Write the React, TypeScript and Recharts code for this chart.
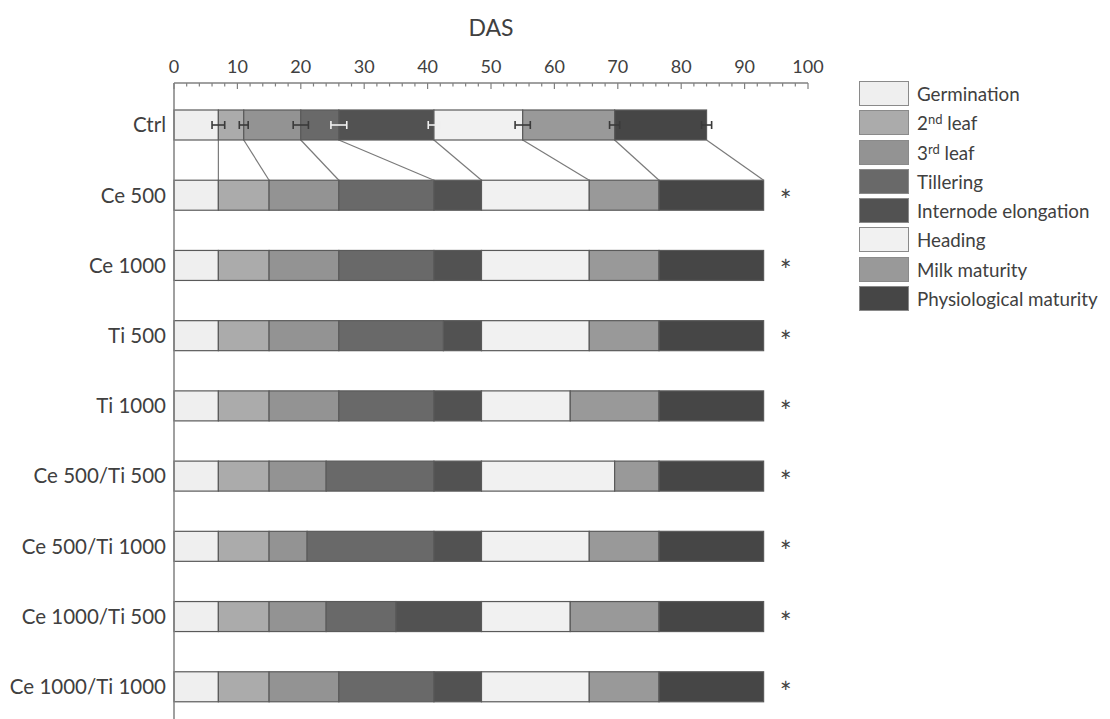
import React from 'react';
import { BarChart, Bar, XAxis, YAxis, Label } from 'recharts';

// ---------- data ----------
const categories = ['Ctrl', 'Ce 500', 'Ce 1000', 'Ti 500', 'Ti 1000', 'Ce 500/Ti 500', 'Ce 500/Ti 1000', 'Ce 1000/Ti 500', 'Ce 1000/Ti 1000'];
const stages = ['Germination', '2nd leaf', '3rd leaf', 'Tillering', 'Internode elongation', 'Heading', 'Milk maturity', 'Physiological maturity'];

// DAS at which each stage ends, one value per category
const germinationEnd = [7, 7, 7, 7, 7, 7, 7, 7, 7];
const leaf2End = [11, 15, 15, 15, 15, 15, 15, 15, 15];
const leaf3End = [20, 26, 26, 26, 26, 24, 21, 24, 26];
const tilleringEnd = [26, 41, 41, 42.5, 41, 41, 41, 35, 41];
const internodeEnd = [41, 48.5, 48.5, 48.5, 48.5, 48.5, 48.5, 48.5, 48.5];
const headingEnd = [55, 65.5, 65.5, 65.5, 62.5, 69.5, 65.5, 62.5, 65.5];
const milkEnd = [69.5, 76.5, 76.5, 76.5, 76.5, 76.5, 76.5, 76.5, 76.5];
const physEnd = [84, 93, 93, 93, 93, 93, 93, 93, 93];

// Ctrl error (± DAS) at the end of each stage
const ctrlError = [1.0, 0.7, 1.2, 1.25, 0.9, 1.2, 0.8, 0.8];
// significance marks
const significant = [false, true, true, true, true, true, true, true, true];

const xTickLabels = [0, 10, 20, 30, 40, 50, 60, 70, 80, 90, 100];
const minorStep = 2;

// ---------- styles ----------
const FONT = 'Lato, "Open Sans", sans-serif';
const TEXT = '#404040';
const COLORS = ['#efefef', '#ababab', '#939393', '#696969', '#525252', '#f1f1f1', '#999999', '#464646'];
const ERR_COLORS = ['#3a3a3a', '#3a3a3a', '#3a3a3a', '#f0f0f0', '#f0f0f0', '#3a3a3a', '#3a3a3a', '#3a3a3a'];
const STROKE = '#5a5a5a';
const AXIS = '#808080';
const TICK_MARGIN = 10;

const stageEnds = [germinationEnd, leaf2End, leaf3End, tilleringEnd, internodeEnd, headingEnd, milkEnd, physEnd];
const keys = stages.map((_, i) => 's' + i);

const data = categories.map((name, ci) => {
  const row: any = { name };
  stageEnds.forEach((arr, si) => {
    row[keys[si]] = arr[ci] - (si > 0 ? stageEnds[si - 1][ci] : 0);
  });
  return row;
});

const allTicks: number[] = [];
for (let v = xTickLabels[0]; v <= xTickLabels[xTickLabels.length - 1]; v += minorStep) allTicks.push(v);

const ctrlEnds: Record<number, { x: number; y: number }> = {};

function errorBar(xc: number, cy: number, half: number, color: string, key: string) {
  return (
    <g key={key} stroke={color} strokeWidth={1.6}>
      <line x1={xc - half} x2={xc + half} y1={cy} y2={cy} />
      <line x1={xc - half} x2={xc - half} y1={cy - 4} y2={cy + 4} />
      <line x1={xc + half} x2={xc + half} y1={cy - 4} y2={cy + 4} />
    </g>
  );
}

function makeShape(si: number) {
  return (p: any) => {
    const { x, y, width, height, index } = p;
    const dur = stageEnds[si][index] - (si > 0 ? stageEnds[si - 1][index] : 0);
    const ppu = dur > 0 ? width / dur : 0;
    const xEnd = x + width;
    const cy = y + height / 2;
    const els: any[] = [
      <rect key="r" x={x} y={y} width={width} height={height} fill={COLORS[si]} stroke={STROKE} strokeWidth={1.2} />,
    ];
    if (index === 0) {
      ctrlEnds[si] = { x: xEnd, y: y + height };
      if (si > 0) els.push(errorBar(x, cy, ctrlError[si - 1] * ppu, ERR_COLORS[si - 1], 'ep'));
      if (si === stages.length - 1) els.push(errorBar(xEnd, cy, ctrlError[si] * ppu, ERR_COLORS[si], 'ee'));
    }
    if (index === 1 && ctrlEnds[si]) {
      els.push(
        <line key="c" x1={ctrlEnds[si].x} y1={ctrlEnds[si].y} x2={xEnd} y2={y} stroke="#7a7a7a" strokeWidth={1.2} />
      );
    }
    if (si === stages.length - 1 && significant[index]) {
      els.push(
        <text key="a" x={xEnd + 22} y={cy + 16} textAnchor="middle" fontSize={28} fill="#444" fontFamily={FONT}>*</text>
      );
    }
    return <g>{els}</g>;
  };
}

const XTick = (p: any) => {
  const { x, y, payload } = p;
  const v = payload.value;
  const axisY = y + TICK_MARGIN;
  const major = xTickLabels.includes(v);
  return (
    <g>
      {major && (
        <text x={x} y={y} textAnchor="middle" fontSize={18} fill={TEXT} fontFamily={FONT}>{v}</text>
      )}
      <line x1={x} x2={x} y1={axisY} y2={axisY + (major ? 6 : 3.5)} stroke={AXIS} strokeWidth={1.2} />
    </g>
  );
};

function renderLabel(name: string) {
  const m = name.match(/^(\d+)(st|nd|rd|th) (.*)$/);
  if (!m) return name;
  return (
    <>
      {m[1]}
      <sup style={{ fontSize: 13, verticalAlign: 'top', position: 'relative', top: -3 }}>{m[2]}</sup> {m[3]}
    </>
  );
}

const LegendBox = () => (
  <div style={{ position: 'absolute', left: 851, top: 73, fontFamily: FONT }}>
    {stages.map((s, i) => (
      <div key={s} style={{ display: 'flex', alignItems: 'center', height: 25, marginBottom: 4.3 }}>
        <div
          style={{
            width: 50,
            height: 25,
            boxSizing: 'border-box',
            background: COLORS[i],
            border: '1.5px solid #8a8a8a',
          }}
        />
        <span style={{ marginLeft: 8, fontSize: 18.8, color: TEXT, whiteSpace: 'nowrap', lineHeight: '25px' }}>
          {renderLabel(s)}
        </span>
      </div>
    ))}
  </div>
);

export default function App() {
  return (
    <div style={{ position: 'relative', width: 1102, height: 724, fontFamily: FONT }}>
      <BarChart
        width={1102}
        height={724}
        data={data}
        layout="vertical"
        margin={{ top: 0, right: 302, bottom: 10, left: 0 }}
        barSize={30}
      >
        <XAxis
          type="number"
          orientation="top"
          domain={[0, 100]}
          ticks={allTicks}
          interval={0}
          tick={<XTick />}
          tickLine={false}
          tickSize={0}
          tickMargin={TICK_MARGIN}
          height={75}
          axisLine={{ stroke: AXIS, strokeWidth: 1.5 }}
        >
          <Label value="DAS" position="insideTop" offset={12} fontSize={23} fill={TEXT} fontFamily={FONT} />
        </XAxis>
        <YAxis
          type="category"
          dataKey="name"
          width={166}
          tickLine={false}
          tickSize={0}
          tickMargin={8}
          padding={{ top: 7, bottom: 0 }}
          axisLine={{ stroke: AXIS, strokeWidth: 1.5 }}
          tick={{ fontSize: 20.5, fill: TEXT, fontFamily: FONT }}
        />
        {keys.map((k, si) => (
          <Bar
            key={k}
            dataKey={k}
            stackId="a"
            name={stages[si]}
            fill={COLORS[si]}
            isAnimationActive={false}
            shape={makeShape(si)}
          />
        ))}
      </BarChart>
      <LegendBox />
    </div>
  );
}
